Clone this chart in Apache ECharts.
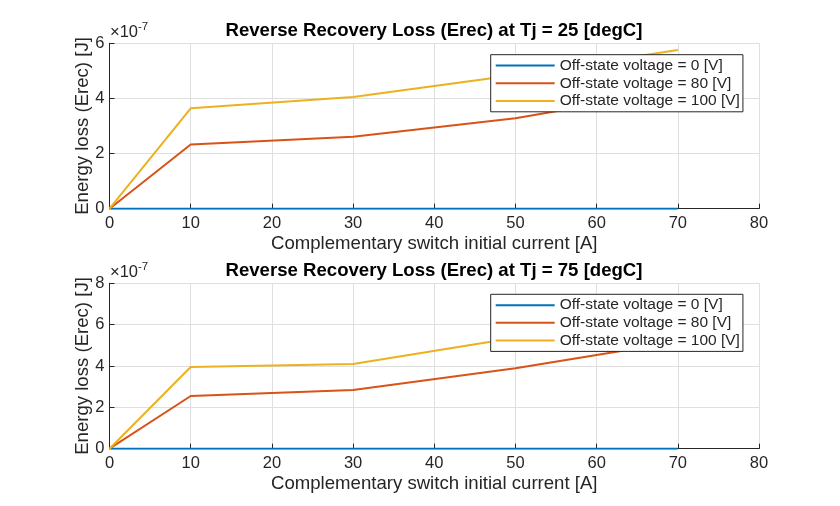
<!DOCTYPE html>
<html>
<head>
<meta charset="utf-8">
<script src="https://cdn.jsdelivr.net/npm/echarts@6/dist/echarts.min.js"></script>
<style>
html,body{margin:0;padding:0;background:#fff;}
#chart{width:840px;height:506px;}
</style>
</head>
<body>
<div id="chart"></div>
<script>
// x: complementary switch initial current [A]
const currents = [0, 10, 30, 50, 70];
const seriesNames = ['Off-state voltage = 0 [V]', 'Off-state voltage = 80 [V]', 'Off-state voltage = 100 [V]'];
// Values in units of 1e-7 J
const tj25_v0   = [0, 0, 0, 0, 0];
const tj25_v80  = [0, 2.33, 2.61, 3.28, 4.30];
const tj25_v100 = [0, 3.64, 4.05, 4.85, 5.76];
const tj75_v0   = [0, 0, 0, 0, 0];
const tj75_v80  = [0, 2.55, 2.84, 3.89, 5.17];
const tj75_v100 = [0, 3.95, 4.10, 5.37, 6.40];
const xTicks = [0, 10, 20, 30, 40, 50, 60, 70, 80];
const yTicksTop = [0, 2, 4, 6];
const yTicksBottom = [0, 2, 4, 6, 8];
const titles = ['Reverse Recovery Loss (Erec) at Tj = 25 [degC]', 'Reverse Recovery Loss (Erec) at Tj = 75 [degC]'];
const xName = 'Complementary switch initial current [A]';
const yName = 'Energy loss (Erec) [J]';

const colors = ['#0072BD', '#D95319', '#EDB120'];
const FONT = 'Liberation Sans, Arial, Helvetica, sans-serif';
const TXT = '#262626';

const gridsPos = [
  {left: 109.5, top: 43.3, width: 649.5, height: 165.4},
  {left: 109.5, top: 283.3, width: 649.5, height: 165.4}
];

function mkX(i) {
  return {
    type: 'value', gridIndex: i, min: xTicks[0], max: xTicks[xTicks.length - 1], interval: 10,
    name: xName, nameLocation: 'middle', nameGap: 25.5,
    nameTextStyle: {fontFamily: FONT, fontSize: 18.6, color: TXT},
    axisLine: {show: true, onZero: false, lineStyle: {color: TXT, width: 1}},
    axisTick: {show: true, inside: true, length: 5, lineStyle: {color: TXT}},
    axisLabel: {fontFamily: FONT, fontSize: 16.5, color: TXT, margin: 6},
    splitLine: {show: true, lineStyle: {color: '#dfdfdf', width: 1}}
  };
}
function mkY(i, ticks) {
  return {
    type: 'value', gridIndex: i, min: ticks[0], max: ticks[ticks.length - 1], interval: 2,
    name: yName, nameLocation: 'middle', nameGap: 17, nameMoveOverlap: false,
    nameTextStyle: {fontFamily: FONT, fontSize: 18.6, color: TXT},
    axisLine: {show: true, onZero: false, lineStyle: {color: TXT, width: 1}},
    axisTick: {show: true, inside: true, length: 5, lineStyle: {color: TXT}},
    axisLabel: {fontFamily: FONT, fontSize: 16.5, color: TXT, margin: 5},
    splitLine: {show: true, lineStyle: {color: '#dfdfdf', width: 1}}
  };
}
function mkSeries(name, vals, color, axis) {
  return {
    type: 'line', name: name, xAxisIndex: axis, yAxisIndex: axis,
    data: currents.map((c, k) => [c, vals[k]]),
    symbol: 'none', showSymbol: false, color: color, lineStyle: {color: color, width: 2},
    animation: false
  };
}
function mkLegend(top) {
  return {
    orient: 'vertical', left: 490.7, top: top, align: 'left',
    data: seriesNames.map(n => ({name: n, icon: 'rect'})),
    itemWidth: 59, itemHeight: 2, itemGap: 0,
    backgroundColor: '#fff', borderColor: '#262626', borderWidth: 1, borderRadius: 0,
    padding: [2, 3, 2, 5],
    textStyle: {fontFamily: FONT, fontSize: 15.5, lineHeight: 17.7, color: TXT, padding: [0, 0, 0, 0]},
    selectedMode: false, z: 10
  };
}
function expText(x, y) {
  return {
    type: 'text', left: x, top: y, z: 10,
    style: {
      text: '{a|×10}{b|-7}',
      rich: {
        a: {fontFamily: FONT, fontSize: 16.5, fill: TXT, verticalAlign: 'bottom', lineHeight: 20},
        b: {fontFamily: FONT, fontSize: 11.5, fill: TXT, verticalAlign: 'top', lineHeight: 20, padding: [0, 0, 9, 0]}
      }
    }
  };
}

const chart = echarts.init(document.getElementById('chart'), null, {renderer: 'canvas'});
chart.setOption({
  backgroundColor: '#fff',
  animation: false,
  title: [0, 1].map(i => ({
    text: titles[i], left: 434, top: gridsPos[i].top - 22, textAlign: 'center', padding: 0,
    textStyle: {fontFamily: FONT, fontSize: 18.6, fontWeight: 'bold', color: '#000'}
  })),
  grid: gridsPos.map(g => Object.assign({containLabel: false}, g)),
  xAxis: [mkX(0), mkX(1)],
  yAxis: [mkY(0, yTicksTop), mkY(1, yTicksBottom)],
  legend: [mkLegend(54.7), mkLegend(294.3)],
  graphic: [expText(110, 21), expText(110, 261)],
  series: [
    mkSeries(seriesNames[0], tj25_v0, colors[0], 0),
    mkSeries(seriesNames[1], tj25_v80, colors[1], 0),
    mkSeries(seriesNames[2], tj25_v100, colors[2], 0),
    mkSeries(seriesNames[0], tj75_v0, colors[0], 1),
    mkSeries(seriesNames[1], tj75_v80, colors[1], 1),
    mkSeries(seriesNames[2], tj75_v100, colors[2], 1)
  ]
});
</script>
</body>
</html>
